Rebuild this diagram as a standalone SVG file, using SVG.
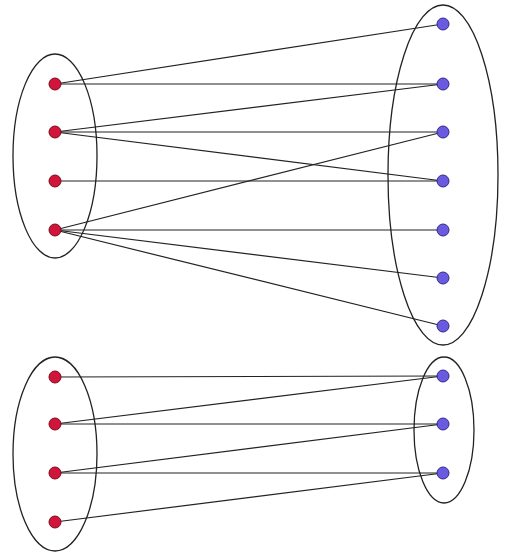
<svg xmlns="http://www.w3.org/2000/svg" width="505" height="556" viewBox="0 0 505 556">
<style>
.set{fill:none;stroke:#222;stroke-width:1.3}
.e{stroke:#222;stroke-width:1.2}
.r{fill:#d0143a;stroke:#7a0a1e;stroke-width:1}
.b{fill:#6a5ae0;stroke:#2e2a8a;stroke-width:1}
</style>
<rect width="505" height="556" fill="#fff"/>
<g id="sets">
<ellipse class="set" cx="55" cy="156" rx="42" ry="102"/>
<ellipse class="set" cx="443" cy="175" rx="55" ry="170"/>
<ellipse class="set" cx="55" cy="454" rx="42" ry="97"/>
<ellipse class="set" cx="444" cy="430" rx="30" ry="73"/>
</g>
<g id="connectors">
<line class="e" x1="55" y1="84" x2="443" y2="24"/>
<line class="e" x1="55" y1="84" x2="443" y2="84"/>
<line class="e" x1="55" y1="132" x2="443" y2="84"/>
<line class="e" x1="55" y1="132" x2="443" y2="132"/>
<line class="e" x1="55" y1="132" x2="443" y2="181"/>
<line class="e" x1="55" y1="181" x2="443" y2="181"/>
<line class="e" x1="55" y1="230" x2="443" y2="132"/>
<line class="e" x1="55" y1="230" x2="443" y2="230"/>
<line class="e" x1="55" y1="230" x2="443" y2="278"/>
<line class="e" x1="55" y1="230" x2="443" y2="326"/>
<line class="e" x1="55" y1="377" x2="443" y2="376"/>
<line class="e" x1="55" y1="424" x2="443" y2="376"/>
<line class="e" x1="55" y1="424" x2="443" y2="424"/>
<line class="e" x1="55" y1="473" x2="443" y2="424"/>
<line class="e" x1="55" y1="473" x2="443" y2="473"/>
<line class="e" x1="55" y1="522" x2="443" y2="473"/>
</g>
<g id="L1"><circle class="r" cx="55" cy="84" r="6"/></g>
<g id="L2"><circle class="r" cx="55" cy="132" r="6"/></g>
<g id="L3"><circle class="r" cx="55" cy="181" r="6"/></g>
<g id="L4"><circle class="r" cx="55" cy="230" r="6"/></g>
<g id="R1"><circle class="b" cx="443" cy="24" r="6"/></g>
<g id="R2"><circle class="b" cx="443" cy="84" r="6"/></g>
<g id="R3"><circle class="b" cx="443" cy="132" r="6"/></g>
<g id="R4"><circle class="b" cx="443" cy="181" r="6"/></g>
<g id="R5"><circle class="b" cx="443" cy="230" r="6"/></g>
<g id="R6"><circle class="b" cx="443" cy="278" r="6"/></g>
<g id="R7"><circle class="b" cx="443" cy="326" r="6"/></g>
<g id="BL1"><circle class="r" cx="55" cy="377" r="6"/></g>
<g id="BL2"><circle class="r" cx="55" cy="424" r="6"/></g>
<g id="BL3"><circle class="r" cx="55" cy="473" r="6"/></g>
<g id="BL4"><circle class="r" cx="55" cy="522" r="6"/></g>
<g id="BR1"><circle class="b" cx="443" cy="376" r="6"/></g>
<g id="BR2"><circle class="b" cx="443" cy="424" r="6"/></g>
<g id="BR3"><circle class="b" cx="443" cy="473" r="6"/></g>
</svg>
